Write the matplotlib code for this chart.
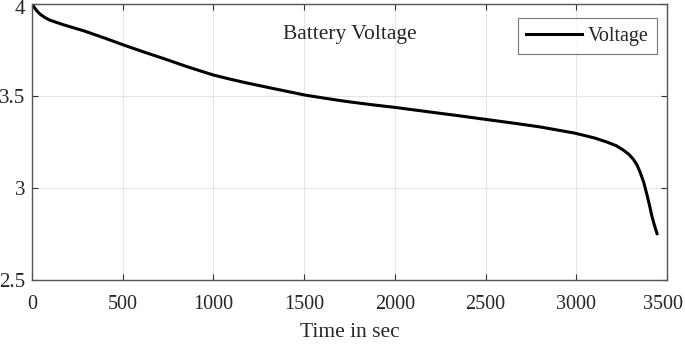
import matplotlib
matplotlib.use("Agg")
import matplotlib.pyplot as plt
import matplotlib.transforms as mtransforms

time_s = [0, 10, 25, 44, 70, 99, 180, 283, 400, 503, 620, 742, 850, 926, 1000, 1090,
          1183, 1280, 1367, 1505, 1620, 1735, 1870, 2001, 2194, 2350, 2500, 2650,
          2800, 2993, 3100, 3168, 3220, 3258, 3290, 3313, 3335, 3352, 3372, 3389,
          3405, 3416, 3430, 3445]
voltage = [4.0, 3.985, 3.965, 3.945, 3.927, 3.912, 3.885, 3.855, 3.815, 3.778,
           3.738, 3.698, 3.661, 3.637, 3.614, 3.592, 3.571, 3.551, 3.533, 3.505,
           3.487, 3.470, 3.453, 3.438, 3.413, 3.393, 3.373, 3.353, 3.332, 3.298,
           3.272, 3.250, 3.230, 3.207, 3.183, 3.158, 3.125, 3.085, 3.030, 2.965,
           2.900, 2.850, 2.800, 2.752]
x_ticks = [0, 500, 1000, 1500, 2000, 2500, 3000, 3500]
y_ticks = [2.5, 3, 3.5, 4]
y_tick_labels = ["2.5", "3", "3.5", "4"]

plt.rcParams['font.family'] = ['Liberation Serif', 'DejaVu Serif']

fig = plt.figure(figsize=(6.85, 3.44), dpi=100)
ax = fig.add_axes([32/685, 64/344, 635/685, 276/344])

ax.plot(time_s, voltage, color='black', linewidth=2.2, label='Voltage')

ax.set_xlim(0, 3500)
ax.set_ylim(2.5, 4)
ax.set_xticks(x_ticks)
ax.set_yticks(y_ticks)
ax.set_yticklabels(y_tick_labels)
ax.grid(True, color='#e6e6e6', linewidth=0.8)
ax.set_axisbelow(True)
ax.tick_params(direction='in', length=4, width=0.8, colors='#333333',
               top=True, right=True, labelcolor='#262626')
ax.tick_params(axis='x', pad=11, labelsize=14.5)
ax.tick_params(axis='y', pad=5, labelsize=15)
for s in ax.spines.values():
    s.set_color('#555555')
    s.set_linewidth(1.0)

# keep edge tick labels inside the canvas
last_lbl = ax.get_xticklabels()[-1]
last_lbl.set_transform(last_lbl.get_transform() +
                       mtransforms.ScaledTranslation(-4/100, 0, fig.dpi_scale_trans))
top_lbl = ax.get_yticklabels()[-1]
top_lbl.set_transform(top_lbl.get_transform() +
                      mtransforms.ScaledTranslation(0, -3/100, fig.dpi_scale_trans))

ax.set_xlabel('Time in sec', fontsize=15.5, color='#262626', labelpad=6)
ax.text(0.5, 0.89, 'Battery Voltage', transform=ax.transAxes, ha='center',
        va='center', fontsize=15.5, color='#262626')

leg = ax.legend(loc='upper right', bbox_to_anchor=(0.9845, 0.949), fontsize=14.5,
                frameon=True, fancybox=False, edgecolor='#555555',
                handlelength=2.75, handletextpad=0.3, borderpad=0.42,
                borderaxespad=0)
leg.get_frame().set_linewidth(0.8)
for t in leg.get_texts():
    t.set_color('#262626')

fig.savefig('out.png', dpi=100)
